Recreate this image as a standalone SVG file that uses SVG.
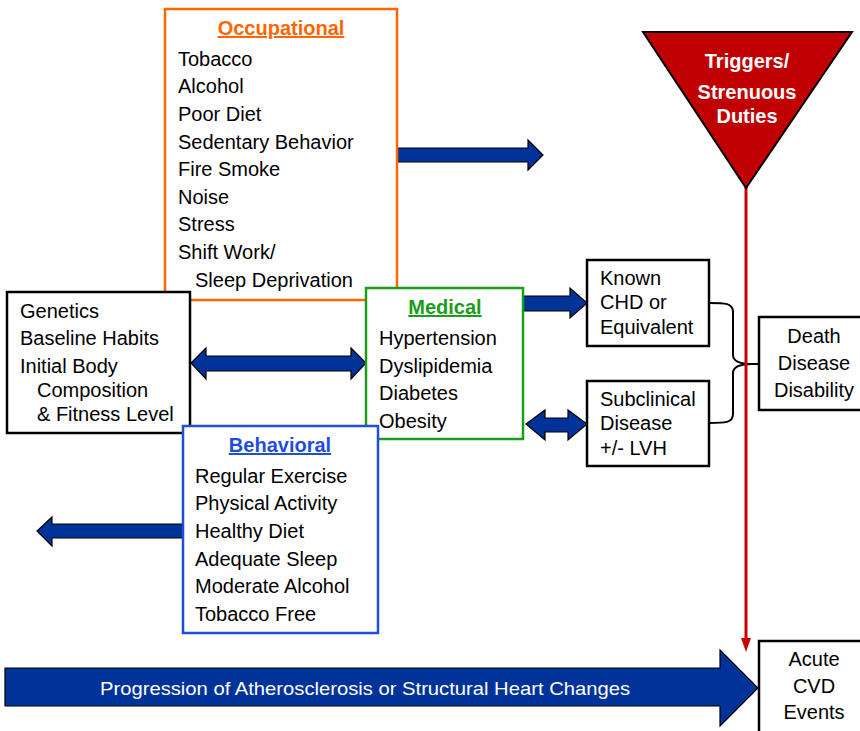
<svg xmlns="http://www.w3.org/2000/svg" width="860" height="731" viewBox="0 0 860 731">
<style>
text{font-family:"Liberation Sans",Arial,sans-serif;font-size:20px;fill:#000}
.t{font-weight:bold;text-decoration:underline;text-anchor:middle}
.c{text-anchor:middle}
.box{fill:#fff;stroke-width:2.5}
.arr{fill:#003399;stroke:#000;stroke-width:1.2}
</style>
<rect width="860" height="731" fill="#fff"/>
<g id="connectors">
<path class="arr" d="M397,148 H528 V140 L543,155 L528,170 V162 H397 Z"/>
<path class="arr" d="M191,363 L206,348 V356 H351 V348 L366,363 L351,379 V371 H206 V379 Z"/>
<path class="arr" d="M183,524 H52 V517 L37,531 L52,546 V538 H183 Z"/>
<path class="arr" d="M523,296 H570 V288 L587,303 L570,318 V311 H523 Z"/>
<path class="arr" d="M526,424 L545,410 V418 H568 V410 L587,424 L568,440 V432 H545 V440 Z"/>
<path d="M709,303 C725,303 733,303 733,312 V355 C733,361 740,364 752,364 M709,423 C725,423 733,423 733,414 V373 C733,367 740,364 752,364 H759" fill="none" stroke="#000" stroke-width="2"/>
<line x1="746" y1="186" x2="746" y2="640" stroke="#CC0000" stroke-width="3"/>
<path d="M741,638 L746,652 L751,638 Z" fill="#CC0000"/>
<path class="arr" d="M5,668 H720 V650 L758,688 L720,726 V706 H5 Z" stroke-width="2"/>
<text x="365" y="695" class="c" style="fill:#fff;font-size:19px" textLength="530" lengthAdjust="spacingAndGlyphs">Progression of Atherosclerosis or Structural Heart Changes</text>
</g>
<g id="occupational">
<rect class="box" x="165" y="9" width="232" height="291" stroke="#FF6600"/>
<text x="281" y="35" class="t" style="fill:#FF6600">Occupational</text>
<text x="178" y="66">Tobacco</text>
<text x="178" y="93">Alcohol</text>
<text x="178" y="121">Poor Diet</text>
<text x="178" y="149">Sedentary Behavior</text>
<text x="178" y="176">Fire Smoke</text>
<text x="178" y="204">Noise</text>
<text x="178" y="231">Stress</text>
<text x="178" y="259">Shift Work/</text>
<text x="195" y="287">Sleep Deprivation</text>
</g>
<g id="genetics">
<rect class="box" x="7" y="292" width="183" height="141" stroke="#000"/>
<text x="20" y="318">Genetics</text>
<text x="20" y="345">Baseline Habits</text>
<text x="20" y="373">Initial Body</text>
<text x="37" y="397">Composition</text>
<text x="37" y="421">&amp; Fitness Level</text>
</g>
<g id="medical">
<rect class="box" x="366" y="288" width="157" height="151" stroke="#1A9E1A"/>
<text x="445" y="314" class="t" style="fill:#1A9E1A">Medical</text>
<text x="379" y="345">Hypertension</text>
<text x="379" y="373">Dyslipidemia</text>
<text x="379" y="400">Diabetes</text>
<text x="379" y="428">Obesity</text>
</g>
<g id="behavioral">
<rect class="box" x="183" y="426" width="195" height="207" stroke="#1F4FD8"/>
<text x="280" y="452" class="t" style="fill:#1F4FD8">Behavioral</text>
<text x="195" y="483">Regular Exercise</text>
<text x="195" y="510">Physical Activity</text>
<text x="195" y="538">Healthy Diet</text>
<text x="195" y="566">Adequate Sleep</text>
<text x="195" y="593">Moderate Alcohol</text>
<text x="195" y="621">Tobacco Free</text>
</g>
<g id="known">
<rect class="box" x="587" y="260" width="122" height="86" stroke="#000"/>
<text x="600" y="285">Known</text>
<text x="600" y="309">CHD or</text>
<text x="600" y="334">Equivalent</text>
</g>
<g id="subclinical">
<rect class="box" x="587" y="381" width="122" height="85" stroke="#000"/>
<text x="600" y="406">Subclinical</text>
<text x="600" y="430">Disease</text>
<text x="600" y="455">+/- LVH</text>
</g>
<g id="death">
<rect class="box" x="759" y="317" width="104" height="93" stroke="#000"/>
<text x="814" y="343" class="c">Death</text>
<text x="814" y="370" class="c">Disease</text>
<text x="814" y="397" class="c">Disability</text>
</g>
<g id="triggers">
<polygon points="643,32 852,32 746,188" fill="#C00000" stroke="#000" stroke-width="2"/>
<text x="747" y="68" class="c" style="fill:#fff;font-weight:bold">Triggers/</text>
<text x="747" y="99" class="c" style="fill:#fff;font-weight:bold">Strenuous</text>
<text x="747" y="123" class="c" style="fill:#fff;font-weight:bold">Duties</text>
</g>
<g id="acute">
<rect class="box" x="759" y="641" width="104" height="93" stroke="#000"/>
<text x="814" y="666" class="c">Acute</text>
<text x="814" y="693" class="c">CVD</text>
<text x="814" y="719" class="c">Events</text>
</g>
</svg>
